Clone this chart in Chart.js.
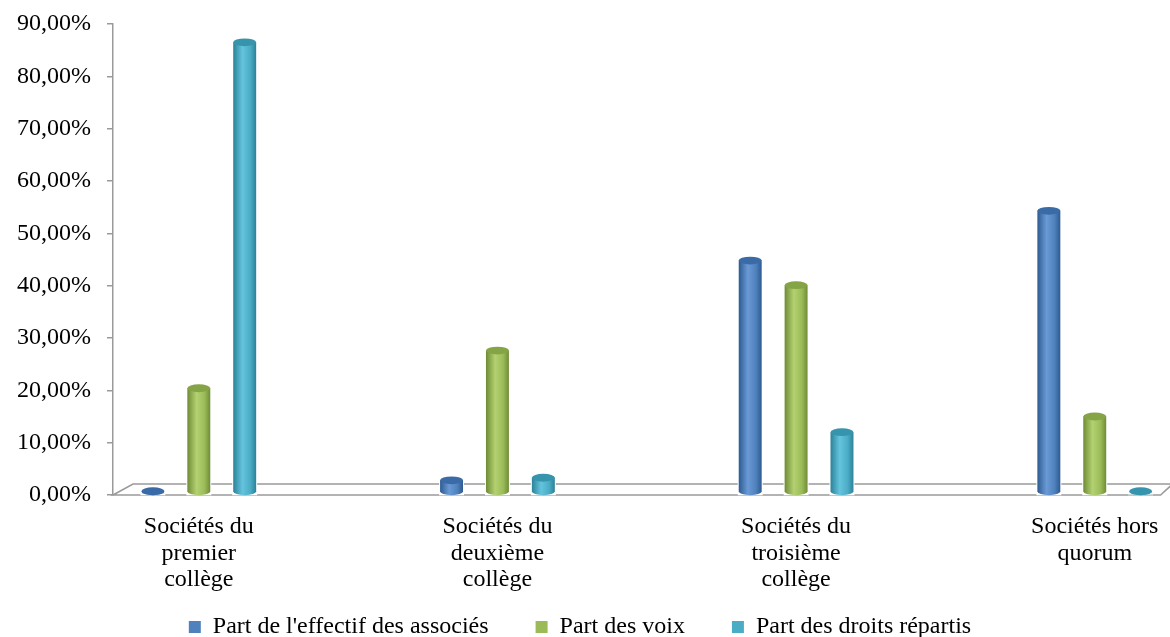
<!DOCTYPE html>
<html>
<head>
<meta charset="utf-8">
<script src="https://cdn.jsdelivr.net/npm/chart.js@4.4.1/dist/chart.umd.min.js"></script>
<style>
    html, body { margin: 0; padding: 0; background: #fff; }
    #wrap { width: 1170px; height: 637px; }
</style>
</head>
<body>
<div id="wrap"><canvas id="chart"></canvas></div>
<script>
// Chart data
const categories = [
    ['Sociétés du', 'premier', 'collège'],
    ['Sociétés du', 'deuxième', 'collège'],
    ['Sociétés du', 'troisième', 'collège'],
    ['Sociétés hors', 'quorum']
];
const seriesNames = ["Part de l'effectif des associés", 'Part des voix', 'Part des droits répartis'];
const effectif = [0.3, 2.8, 44.8, 54.3];
const voix = [20.4, 27.6, 40.1, 15.0];
const droits = [86.5, 3.3, 12.0, 0.1];
const yTicks = [0, 10, 20, 30, 40, 50, 60, 70, 80, 90];

// colours: [base, edge, highlight, top]
const palette = [
    ['#4F81BD', '#2d5a91', '#6a9ad6', '#3b6ba6'],
    ['#9BBB59', '#6f8c36', '#b3d170', '#84a446'],
    ['#4BACC6', '#2b8299', '#64c4dd', '#3794ad']
];

const serif = "'Liberation Serif', 'DejaVu Serif', serif";
const gap = '\u00a0\u00a0\u00a0\u00a0';

// draws the 3D floor under the bars
const floorPlugin = {
    id: 'floor',
    beforeDatasetsDraw(chart) {
        const { ctx, chartArea } = chart;
        const front = chartArea.bottom;
        const back = front - 11;
        ctx.save();
        ctx.strokeStyle = '#9a9a9a';
        ctx.lineWidth = 1.5;
        ctx.beginPath();
        ctx.moveTo(chartArea.left, front);
        ctx.lineTo(chartArea.left + 20, back);
        ctx.lineTo(chartArea.right + 15, back);
        ctx.lineTo(chartArea.right + 3, front);
        ctx.closePath();
        ctx.stroke();
        ctx.restore();
    }
};

// repaints each bar as a cylinder
const cylinderPlugin = {
    id: 'cylinder',
    afterDatasetsDraw(chart) {
        const ctx = chart.ctx;
        chart.data.datasets.forEach((ds, di) => {
            const meta = chart.getDatasetMeta(di);
            const cols = palette[di];
            meta.data.forEach((bar) => {
                const w = bar.width;
                const x0 = bar.x - w / 2;
                const top = bar.y;
                const base = bar.base - 3;
                const ry = w * 0.17;
                const grad = ctx.createLinearGradient(x0, 0, x0 + w, 0);
                grad.addColorStop(0, cols[1]);
                grad.addColorStop(0.4, cols[2]);
                grad.addColorStop(0.75, cols[0]);
                grad.addColorStop(1, cols[1]);
                ctx.save();
                ctx.fillStyle = '#fff';
                ctx.fillRect(x0 - 1, top, w + 2, bar.base - top + 1);
                ctx.fillStyle = grad;
                ctx.beginPath();
                ctx.moveTo(x0, Math.min(top, base));
                ctx.lineTo(x0, base);
                ctx.ellipse(bar.x, base, w / 2, ry, 0, Math.PI, 0, true);
                ctx.lineTo(x0 + w, Math.min(top, base));
                ctx.closePath();
                ctx.fill();
                ctx.fillStyle = cols[3];
                ctx.beginPath();
                ctx.ellipse(bar.x, Math.min(top, base), w / 2, ry, 0, 0, Math.PI * 2);
                ctx.fill();
                ctx.restore();
            });
        });
    }
};

const ctx = document.getElementById('chart').getContext('2d');
new Chart(ctx, {
    type: 'bar',
    data: {
        labels: categories.map((c, i) => i),
        datasets: [
            { label: seriesNames[0], data: effectif, backgroundColor: palette[0][0] },
            { label: seriesNames[1], data: voix, backgroundColor: palette[1][0] },
            { label: seriesNames[2], data: droits, backgroundColor: palette[2][0] }
        ]
    },
    options: {
        responsive: true,
        maintainAspectRatio: false,
        animation: false,
        categoryPercentage: 0.461,
        barPercentage: 0.5,
        layout: { padding: { top: 0, right: 10, left: 0, bottom: -12 } },
        plugins: {
            tooltip: { enabled: false },
            legend: {
                position: 'bottom',
                labels: {
                    color: '#000',
                    font: { family: serif, size: 24 },
                    boxWidth: 12,
                    boxHeight: 12,
                    padding: 23,
                    generateLabels: (chart) => {
                        const items = Chart.defaults.plugins.legend.labels.generateLabels(chart);
                        items.forEach((item, i) => {
                            item.lineWidth = 0;
                            if (i < items.length - 1) item.text += gap;
                        });
                        return items;
                    }
                }
            }
        },
        scales: {
            x: {
                type: 'linear',
                offset: false,
                min: -0.2873,
                max: 3.2105,
                afterBuildTicks: (scale) => {
                    scale.ticks = categories.map((c, i) => ({ value: i }));
                },
                afterFit: (scale) => { scale.height = 97; },
                ticks: {
                    color: '#000',
                    font: { family: serif, size: 24, lineHeight: 1.1 },
                    padding: 11,
                    maxRotation: 0,
                    autoSkip: false,
                    callback: (value) => categories[value] || ''
                },
                grid: { display: false },
                border: { display: false }
            },
            y: {
                min: 0,
                max: 90,
                afterBuildTicks: (scale) => {
                    scale.ticks = yTicks.map((v) => ({ value: v }));
                },
                afterFit: (scale) => {
                    scale.width = 113;
                    scale.paddingTop = 24;
                },
                ticks: {
                    color: '#000',
                    font: { family: serif, size: 24 },
                    padding: 16,
                    callback: (value) => value.toFixed(2).replace('.', ',') + '%'
                },
                grid: {
                    drawOnChartArea: false,
                    drawTicks: true,
                    tickLength: 6,
                    color: '#9a9a9a',
                    lineWidth: 1.5
                },
                border: { color: '#9a9a9a', width: 1.5 }
            }
        }
    },
    plugins: [floorPlugin, cylinderPlugin]
});
</script>
</body>
</html>
